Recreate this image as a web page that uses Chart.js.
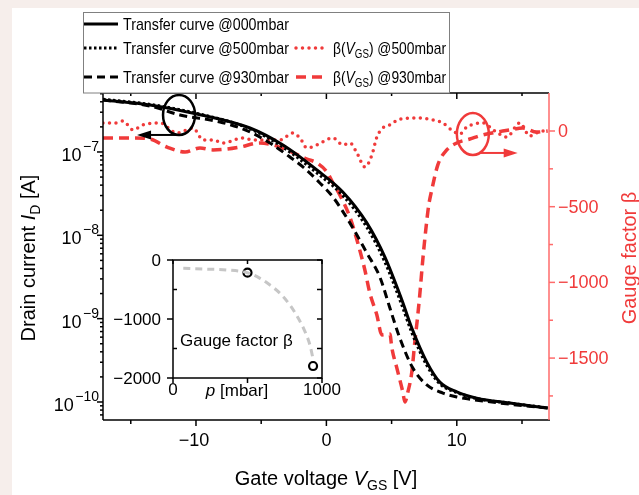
<!DOCTYPE html>
<html>
<head>
<meta charset="utf-8">
<script src="https://cdn.jsdelivr.net/npm/chart.js@4.4.0/dist/chart.umd.min.js"></script>
<style>
  html, body { margin: 0; padding: 0; background: #ffffff; overflow: hidden; }
  #wrap { position: relative; width: 639px; height: 495px; background: #ffffff; }
  #main { position: absolute; left: 0; top: 0; }
  #inset { position: absolute; left: 100px; top: 250px; }
  .strip { position: absolute; background: #f6eeeb; }
</style>
</head>
<body>
<div id="wrap">
  <canvas id="main" width="639" height="495"></canvas>
  <canvas id="inset" width="250" height="160"></canvas>
  <div class="strip" style="left:0;top:0;width:639px;height:8px"></div>
  <div class="strip" style="left:0;top:0;width:12px;height:495px"></div>
</div>
<script>
// ---- data ----
// transfer curves (V_GS in V, I_D in A)
const vgs000 = [-17.13, -13.52, -9.92, -5.86, -3.33, -0.73, 1.26, 3.10, 4.48, 5.79, 6.55, 7.70, 8.70, 10.0, 11.53, 14.06, 16.97];
const id000  = [4.21e-7, 3.66e-7, 2.86e-7, 1.94e-7, 1.21e-7, 6.08e-8, 3.31e-8, 1.41e-8, 5.50e-9, 1.67e-9, 7.71e-10, 3.01e-10, 1.73e-10, 1.32e-10, 1.11e-10, 9.7e-11, 8.45e-11];
const id500  = [4.30e-7, 3.72e-7, 2.90e-7, 1.90e-7, 1.14e-7, 5.60e-8, 3.00e-8, 1.25e-8, 4.80e-9, 1.45e-9, 6.80e-10, 2.75e-10, 1.65e-10, 1.30e-10, 1.10e-10, 9.7e-11, 8.50e-11];
const vgs930 = [-17.13, -13.52, -11.23, -8.16, -5.86, -4.33, -2.80, -1.80, -0.50, 0.50, 1.80, 3.10, 4.10, 4.87, 5.63, 6.63, 7.70, 8.93, 10.0, 11.99, 14.06, 16.97];
const id930  = [4.21e-7, 3.56e-7, 2.78e-7, 2.29e-7, 1.74e-7, 1.28e-7, 8.71e-8, 6.61e-8, 4.25e-8, 2.88e-8, 1.41e-8, 6.14e-9, 3.16e-9, 1.34e-9, 5.85e-10, 2.55e-10, 1.60e-10, 1.28e-10, 1.15e-10, 1.03e-10, 9.4e-11, 8.45e-11];

// gauge factor beta(V_GS)
const vgsB500 = [-17.13, -16.21, -15.59, -14.83, -14.06, -12.76, -11.46, -10.23, -9.46, -8.70, -7.93, -6.40, -5.63, -4.71, -3.56, -2.57, -2.03, -1.49, -0.73, 0.50, 1.26, 1.80, 2.34, 2.95, 3.49, 3.87, 4.33, 4.87, 5.63, 7.16, 8.16, 8.93, 9.69, 10.23, 10.77, 11.99, 12.91, 13.83, 14.83, 15.59, 16.51, 16.97];
const beta500 = [53, 53, 66, 7, 40, 53, -13, 20, -59, -59, -79, -46, -59, -59, -59, -13, -46, -112, -92, -46, -92, -79, -145, -238, -158, -40, 20, 40, 79, 86, 73, 53, 0, -20, 26, 53, 0, -40, 53, -33, 0, 0];
const vgsB930 = [-17.13, -14.83, -13.52, -12.22, -10.84, -9.69, -8.70, -7.62, -6.63, -5.10, -4.10, -3.03, -1.49, -0.73, 0.04, 0.50, 1.03, 1.80, 2.41, 2.95, 3.33, 3.87, 4.25, 4.87, 5.02, 5.40, 5.86, 6.02, 6.25, 6.55, 6.78, 7.01, 7.16, 7.39, 7.62, 7.85, 8.08, 8.54, 9.23, 10.0, 11.0, 11.99, 13.07, 14.06, 15.06, 16.13, 16.97];
const beta930 = [-46, -46, -53, -106, -139, -112, -125, -119, -106, -79, -92, -125, -185, -211, -271, -343, -423, -568, -740, -918, -1070, -1215, -1347, -1341, -1433, -1565, -1724, -1790, -1724, -1592, -1394, -1215, -1083, -852, -654, -489, -390, -225, -125, -79, -53, -26, -7, 7, 20, -7, 0];

// inset: gauge factor vs pressure
const insetP    = [500, 940];
const insetBeta = [-215, -1797];
const fitP      = [69, 203, 360, 500, 584, 651, 718, 785, 841, 886, 919, 942];
const fitBeta   = [-141, -153, -169, -215, -311, -424, -565, -763, -989, -1215, -1441, -1700];

// axes / ticks
const xMajor = [-10, 0, 10];
const xMinor = [-15, -5, 5, 15];
const logDecades = [-10, -9, -8, -7];
const betaMajor = [0, -500, -1000, -1500];
const betaMinor = [-250, -750, -1250, -1750];
const insetYMajor = [0, -1000, -2000];
const insetYMinor = [-500, -1500];
const insetXTicks = [0, 500, 1000];

// annotation markers (data coordinates)
const leftMark  = { x: -11.3, y: 2.78e-7, tipX: -14.52, arrowY: 1.6e-7 };
const rightMark = { x: 11.23, y: -20, tailX: 11.76, tipX: 14.67, arrowY: -145 };

const F = '"Liberation Sans", Arial, Helvetica, sans-serif';
const RED = '#f03a3a';
const RED_AXIS = '#ff6b6b';

const pts = (xs, ys) => xs.map((v, i) => ({ x: v, y: ys[i] }));
const num = v => (v < 0 ? '\u2212' + Math.abs(v) : String(v));

function line(c, x1, y1, x2, y2) { c.beginPath(); c.moveTo(x1, y1); c.lineTo(x2, y2); c.stroke(); }

function drawRich(c, parts, x, y) {
  parts.forEach(p => {
    c.font = p.f;
    c.fillText(p.t, x, y + (p.dy || 0));
    x += c.measureText(p.t).width;
  });
}
function richWidth(c, parts) {
  let w = 0;
  parts.forEach(p => { c.font = p.f; w += c.measureText(p.t).width; });
  return w;
}

function drawPow(c, exp, xr, yc) {
  const e = num(exp);
  c.font = '18px ' + F; const w1 = c.measureText('10').width;
  c.font = '14px ' + F; const w2 = c.measureText(e).width;
  const x0 = xr - w1 - w2 - 1.5;
  c.textAlign = 'left'; c.textBaseline = 'alphabetic';
  c.font = '18px ' + F; c.fillText('10', x0, yc + 9);
  c.font = '14px ' + F; c.fillText(e, x0 + w1 + 1.5, yc - 1);
}

function arrow(c, x1, y, x2, head) {
  line(c, x1, y, x2 - Math.sign(x2 - x1) * head * 0.8, y);
  const d = Math.sign(x2 - x1);
  c.beginPath();
  c.moveTo(x2, y);
  c.lineTo(x2 - d * head, y - 4.5);
  c.lineTo(x2 - d * head, y + 4.5);
  c.closePath();
  c.fill();
}

const datasets = [
  { label: 'Transfer curve @000mbar', data: pts(vgs000, id000), yAxisID: 'y',
    borderColor: '#000', borderWidth: 3, borderDash: [] },
  { label: 'Transfer curve @500mbar', data: pts(vgs000, id500), yAxisID: 'y',
    borderColor: '#000', borderWidth: 3, borderDash: [2.5, 2.5] },
  { label: 'Transfer curve @930mbar', data: pts(vgs930, id930), yAxisID: 'y',
    borderColor: '#000', borderWidth: 3, borderDash: [8, 5] },
  { label: 'beta500', data: pts(vgsB500, beta500), yAxisID: 'y1',
    borderColor: RED, borderWidth: 3.5, borderDash: [0, 6.5], borderCapStyle: 'round' },
  { label: 'beta930', data: pts(vgsB930, beta930), yAxisID: 'y1',
    borderColor: RED, borderWidth: 3.5, borderDash: [10, 6] },
];
datasets.forEach(d => {
  d.type = 'line'; d.pointRadius = 0; d.fill = false;
  d.cubicInterpolationMode = 'monotone';
  if (!d.borderCapStyle) d.borderCapStyle = 'butt';
});

// legend rows: sample from x1 to x2, text starts at tx and spans tw pixels
const legendItems = [
  { ds: 0, x1: 84, x2: 118, y: 24, tx: 123, tw: 166, parts: [{ t: 'Transfer curve @000mbar' }] },
  { ds: 1, x1: 84, x2: 118, y: 48, tx: 123, tw: 166, parts: [{ t: 'Transfer curve @500mbar' }] },
  { ds: 2, x1: 84, x2: 118, y: 77, tx: 123, tw: 166, parts: [{ t: 'Transfer curve @930mbar' }] },
  { ds: 3, x1: 296, x2: 325, y: 48, tx: 333, tw: 113, parts: [{ t: '\u03B2(' }, { t: 'V', it: true }, { t: 'GS', sub: true }, { t: ') @500mbar' }] },
  { ds: 4, x1: 296, x2: 325, y: 77, tx: 333, tw: 113, parts: [{ t: '\u03B2(' }, { t: 'V', it: true }, { t: 'GS', sub: true }, { t: ') @930mbar' }] },
];

const mainDecor = {
  id: 'mainDecor',
  beforeDraw(chart) {
    const c = chart.ctx;
    c.save();
    c.fillStyle = '#ffffff'; c.fillRect(0, 0, chart.width, chart.height);
    c.restore();
  },
  afterDatasetsDraw(chart) {
    const c = chart.ctx, a = chart.chartArea;
    const { x, y, y1 } = chart.scales;
    c.save();
    c.lineWidth = 1.5; c.strokeStyle = '#000'; c.fillStyle = '#000';
    line(c, a.left, a.top, a.right, a.top);
    line(c, a.left, a.bottom, a.right + 1, a.bottom);
    line(c, a.left, a.top, a.left, a.bottom);

    // x ticks: outward at bottom, inward at top
    xMajor.forEach(v => { const p = x.getPixelForValue(v); line(c, p, a.bottom, p, a.bottom + 6); line(c, p, a.top, p, a.top + 6); });
    xMinor.forEach(v => { const p = x.getPixelForValue(v); line(c, p, a.bottom, p, a.bottom + 4); line(c, p, a.top, p, a.top + 3); });
    c.font = '18px ' + F; c.textAlign = 'center'; c.textBaseline = 'middle';
    xMajor.forEach(v => c.fillText(num(v), x.getPixelForValue(v) - (v < 0 ? 2 : 0), 441));

    // left log axis
    logDecades.forEach(d => {
      const p = y.getPixelForValue(Math.pow(10, d));
      line(c, a.left - 6, p, a.left, p);
      drawPow(c, d, 99, p);
    });
    for (let d = -11; d <= -7; d++) {
      for (let m = 2; m <= 9; m++) {
        const v = m * Math.pow(10, d);
        if (v < y.min || v > y.max) continue;
        const p = y.getPixelForValue(v);
        line(c, a.left - 3, p, a.left, p);
      }
    }

    // right beta axis
    c.strokeStyle = RED_AXIS;
    line(c, a.right, a.top, a.right, a.bottom);
    betaMajor.forEach(v => { const p = y1.getPixelForValue(v); line(c, a.right, p, a.right + 6, p); });
    betaMinor.forEach(v => { const p = y1.getPixelForValue(v); line(c, a.right, p, a.right + 4, p); });
    c.fillStyle = RED; c.font = '18px ' + F; c.textAlign = 'left'; c.textBaseline = 'middle';
    betaMajor.forEach(v => c.fillText(num(v), 558, y1.getPixelForValue(v) + 1));

    // axis titles
    c.textAlign = 'left'; c.textBaseline = 'alphabetic';
    c.fillStyle = '#000';
    const xt = [{ t: 'Gate voltage ', f: '20px ' + F }, { t: 'V', f: 'italic 20px ' + F }, { t: 'GS', f: '14px ' + F, dy: 5 }, { t: ' [V]', f: '20px ' + F }];
    drawRich(c, xt, 326 - richWidth(c, xt) / 2, 485);
    const yt = [{ t: 'Drain current ', f: '20px ' + F }, { t: 'I', f: 'italic 20px ' + F }, { t: 'D', f: '14px ' + F, dy: 5 }, { t: ' [A]', f: '20px ' + F }];
    c.save(); c.translate(35, 258); c.rotate(-Math.PI / 2);
    drawRich(c, yt, -richWidth(c, yt) / 2, 0); c.restore();
    const rt = [{ t: 'Gauge factor \u03B2', f: '20px ' + F }];
    c.fillStyle = RED;
    c.save(); c.translate(636, 258); c.rotate(-Math.PI / 2);
    drawRich(c, rt, -richWidth(c, rt) / 2, 0); c.restore();

    // annotations
    c.lineWidth = 2.5;
    c.strokeStyle = '#000'; c.fillStyle = '#000';
    let cx = x.getPixelForValue(leftMark.x), cy = y.getPixelForValue(leftMark.y);
    c.beginPath(); c.ellipse(cx, cy, 16, 20, 0, 0, Math.PI * 2); c.stroke();
    let ay = y.getPixelForValue(leftMark.arrowY);
    c.lineWidth = 2;
    arrow(c, cx, ay, x.getPixelForValue(leftMark.tipX), 14);
    c.lineWidth = 2.5;
    c.strokeStyle = RED; c.fillStyle = RED;
    cx = x.getPixelForValue(rightMark.x); cy = y1.getPixelForValue(rightMark.y);
    c.beginPath(); c.ellipse(cx, cy, 16, 21, 0, 0, Math.PI * 2); c.stroke();
    ay = y1.getPixelForValue(rightMark.arrowY);
    c.lineWidth = 2;
    arrow(c, x.getPixelForValue(rightMark.tailX), ay, x.getPixelForValue(rightMark.tipX), 14);

    // legend box
    c.fillStyle = '#fff'; c.fillRect(83, 12, 366, 81);
    c.strokeStyle = '#808080'; c.lineWidth = 1; c.strokeRect(83.5, 12.5, 366, 80.5);
    legendItems.forEach(it => {
      const ds = chart.data.datasets[it.ds];
      c.strokeStyle = ds.borderColor; c.lineWidth = ds.borderWidth;
      c.setLineDash(ds.borderDash); c.lineCap = ds.borderCapStyle;
      line(c, it.x1, it.y, it.x2, it.y);
      c.setLineDash([]); c.lineCap = 'butt';
      c.fillStyle = '#000'; c.textAlign = 'left'; c.textBaseline = 'alphabetic';
      const parts = it.parts.map(p => ({ t: p.t, f: (p.it ? 'italic ' : '') + (p.sub ? '12px ' : '17px ') + F, dy: p.sub ? 4 : 0 }));
      const sx = it.tw / richWidth(c, parts);
      c.save(); c.translate(it.tx, it.y + 6); c.scale(sx, 1);
      drawRich(c, parts, 0, 0); c.restore();
    });
    c.restore();
  }
};

new Chart(document.getElementById('main'), {
  data: { datasets },
  options: {
    responsive: false, animation: false, events: [],
    layout: { padding: { left: 103, right: 90, top: 93, bottom: 75 } },
    plugins: { legend: { display: false }, tooltip: { enabled: false } },
    scales: {
      x: { type: 'linear', display: false, min: -17.13, max: 17.07 },
      y: { type: 'logarithmic', display: false, min: 6.08e-11, max: 5.1e-7 },
      y1: { type: 'linear', display: false, min: -1909, max: 251 }
    }
  },
  plugins: [mainDecor]
});

// ---- inset ----
const insetDecor = {
  id: 'insetDecor',
  afterDatasetsDraw(chart) {
    const c = chart.ctx, a = chart.chartArea;
    const { x, y } = chart.scales;
    c.save();
    c.strokeStyle = '#000'; c.fillStyle = '#000'; c.lineWidth = 1.5;
    c.strokeRect(a.left, a.top, a.right - a.left, a.bottom - a.top);
    insetYMajor.forEach(v => { const p = y.getPixelForValue(v); line(c, a.left - 6, p, a.left, p); line(c, a.right - 5, p, a.right, p); });
    insetYMinor.forEach(v => { const p = y.getPixelForValue(v); line(c, a.left, p, a.left + 4, p); line(c, a.right - 5, p, a.right, p); });
    insetXTicks.forEach(v => { const p = x.getPixelForValue(v); line(c, p, a.bottom, p, a.bottom + 5); line(c, p, a.top, p, a.top + 4); });
    c.font = '17px ' + F; c.textAlign = 'right'; c.textBaseline = 'middle';
    insetYMajor.forEach(v => c.fillText(num(v), a.left - 12, y.getPixelForValue(v) + 1));
    c.textAlign = 'center';
    [0, 1000].forEach(v => c.fillText(String(v), x.getPixelForValue(v), 140));
    c.textAlign = 'left'; c.textBaseline = 'alphabetic';
    const pt = [{ t: 'p', f: 'italic 17px ' + F }, { t: ' [mbar]', f: '17px ' + F }];
    drawRich(c, pt, a.left + 64 - richWidth(c, pt) / 2, 146);
    drawRich(c, [{ t: 'Gauge factor \u03B2', f: '17px ' + F }], a.left + 7, 96);
    c.restore();
  }
};

new Chart(document.getElementById('inset'), {
  data: {
    datasets: [
      { type: 'line', data: pts(fitP, fitBeta), borderColor: '#c6c6c6', borderWidth: 3,
        borderDash: [7, 5], pointRadius: 0, cubicInterpolationMode: 'monotone', fill: false },
      { type: 'scatter', data: pts(insetP, insetBeta), pointRadius: 4, pointBorderWidth: 2.2,
        pointBorderColor: '#000', pointBackgroundColor: '#fff' }
    ]
  },
  options: {
    responsive: false, animation: false, events: [],
    layout: { padding: { left: 73, right: 28, top: 10, bottom: 32 } },
    plugins: { legend: { display: false }, tooltip: { enabled: false } },
    scales: {
      x: { type: 'linear', display: false, min: 0, max: 1000 },
      y: { type: 'linear', display: false, min: -2000, max: 0 }
    }
  },
  plugins: [insetDecor]
});
</script>
</body>
</html>
